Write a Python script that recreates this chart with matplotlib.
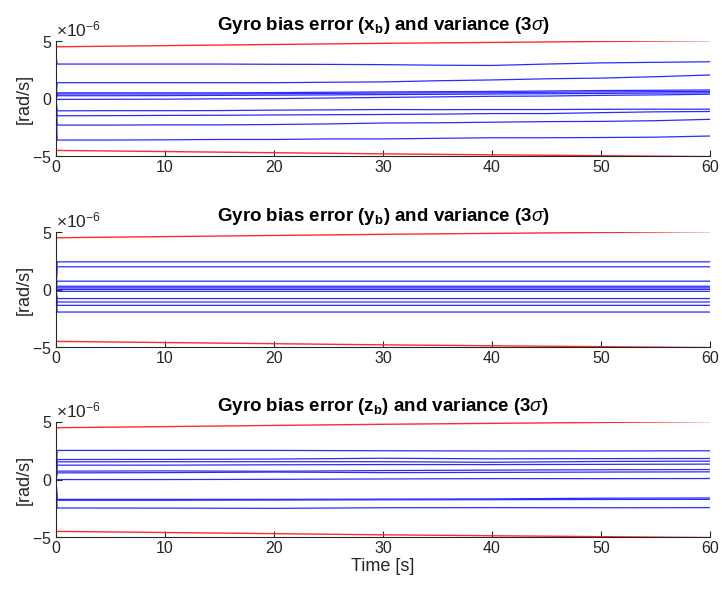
import matplotlib.pyplot as plt
from matplotlib.ticker import ScalarFormatter

plt.rcParams['font.family'] = ['Liberation Sans', 'DejaVu Sans']
plt.rcParams['mathtext.fontset'] = 'custom'
plt.rcParams['mathtext.rm'] = 'Liberation Sans'
plt.rcParams['mathtext.it'] = 'Liberation Sans:italic'
plt.rcParams['mathtext.bf'] = 'Liberation Sans:bold'

# values in 1e-6 rad/s
t_bound = [0, 10, 20, 30, 40, 50, 60]
sigma3 = [4.5, 4.6, 4.7, 4.8, 4.88, 4.96, 5.04]

# x axis: runs, first value is the initial error at t=0
t_x = [0, 0.1, 5, 10, 15, 20, 25, 30, 35, 40, 45, 50, 55, 60]
err_x = [
    [3.6, 3.0, 3.0, 3.0, 3.0, 2.98, 2.97, 2.95, 2.9, 2.88, 3.0, 3.1, 3.15, 3.2],
    [0, 1.38, 1.38, 1.38, 1.38, 1.38, 1.42, 1.45, 1.55, 1.62, 1.72, 1.78, 1.9, 2.05],
    [0, 0.5, 0.5, 0.5, 0.5, 0.52, 0.55, 0.58, 0.6, 0.62, 0.66, 0.7, 0.72, 0.75],
    [0, 0.4, 0.4, 0.4, 0.4, 0.42, 0.45, 0.48, 0.5, 0.5, 0.55, 0.58, 0.6, 0.62],
    [0, 0.25, 0.25, 0.26, 0.28, 0.3, 0.32, 0.35, 0.37, 0.4, 0.42, 0.45, 0.48, 0.5],
    [0, -0.07, -0.06, -0.05, -0.02, 0.0, 0.05, 0.1, 0.15, 0.2, 0.22, 0.28, 0.32, 0.38],
    [0, -1.06, -1.05, -1.05, -1.04, -1.0, -0.98, -0.95, -0.96, -0.95, -0.95, -0.93, -0.92, -0.92],
    [0, -1.49, -1.48, -1.46, -1.45, -1.42, -1.4, -1.38, -1.35, -1.3, -1.3, -1.22, -1.15, -1.12],
    [0, -2.3, -2.3, -2.28, -2.28, -2.25, -2.2, -2.12, -2.1, -2.05, -2.0, -1.98, -1.92, -1.8],
    [0, -3.6, -3.6, -3.58, -3.55, -3.55, -3.5, -3.5, -3.45, -3.4, -3.4, -3.38, -3.35, -3.25],
]

# y axis: runs stay flat
t_y = [0, 0.1, 60]
level_y = [2.41, 1.98, 0.73, 0.29, 0.15, 0.02, -0.15, -0.78, -1.08, -1.37, -1.95]

# z axis
t_z = [0, 0.1, 10, 20, 30, 40, 50, 60]
err_z = [
    [0, 2.53, 2.53, 2.53, 2.5, 2.48, 2.48, 2.5],
    [0, 1.74, 1.75, 1.78, 1.85, 1.8, 1.82, 1.83],
    [0, 1.54, 1.55, 1.55, 1.55, 1.5, 1.57, 1.6],
    [0, 1.25, 1.25, 1.28, 1.3, 1.3, 1.32, 1.34],
    [0, 0.73, 0.75, 0.72, 0.78, 0.82, 0.85, 0.87],
    [0, 0.58, 0.6, 0.65, 0.6, 0.62, 0.65, 0.67],
    [0, 0.0, 0.0, 0.02, 0.05, 0.08, 0.08, 0.09],
    [0, -1.72, -1.72, -1.72, -1.7, -1.68, -1.62, -1.6],
    [0, -1.8, -1.8, -1.78, -1.76, -1.75, -1.73, -1.72],
    [0, -2.47, -2.48, -2.5, -2.45, -2.44, -2.45, -2.44],
]

err_y = [[0] + [v, v] for v in level_y]
panels = [("x", t_x, err_x), ("y", t_y, err_y), ("z", t_z, err_z)]

fig = plt.figure(figsize=(7.22, 5.92), dpi=100)
ax_col = '0.15'
tops = [0.9307, 0.6081, 0.2872]
h = 0.1945

for i, (name, tt, runs) in enumerate(panels):
    ax = fig.add_axes([0.0776, tops[i] - h, 0.9058, h])
    for r in runs:
        ax.plot(tt, [v * 1e-6 for v in r], color='#2b2bff', lw=0.9)
    ax.plot(t_bound, [v * 1e-6 for v in sigma3], color='#ff2a2a', lw=1.0)
    ax.plot(t_bound, [-v * 1e-6 for v in sigma3], color='#ff2a2a', lw=1.0)
    ax.set_xlim(0, 60)
    ax.set_ylim(-5e-6, 5e-6)
    ax.set_yticks([-5e-6, 0, 5e-6])
    ax.set_xticks(range(0, 61, 10))
    fmt = ScalarFormatter(useMathText=True)
    fmt.set_powerlimits((-3, 3))
    ax.yaxis.set_major_formatter(fmt)
    ax.yaxis.get_offset_text().set_fontsize(12.5)
    ax.yaxis.get_offset_text().set_color('0.3')
    for s in ['top', 'right']:
        ax.spines[s].set_visible(False)
    for s in ['left', 'bottom']:
        ax.spines[s].set_color(ax_col)
        ax.spines[s].set_linewidth(0.8)
    ax.tick_params(direction='in', length=4, width=0.8, colors=ax_col,
                   labelsize=11.5, pad=3)
    ax.set_ylabel('[rad/s]', fontsize=13, color=ax_col, labelpad=0)
    ax.set_title(r'Gyro bias error (%s$_\mathbf{b}$) and variance (3$\sigma$)' % name,
                 fontsize=13.5, fontweight='bold', pad=8)
    if i == 2:
        ax.set_xlabel('Time [s]', fontsize=13, color=ax_col, labelpad=1)

fig.savefig('out.png', dpi=100)
